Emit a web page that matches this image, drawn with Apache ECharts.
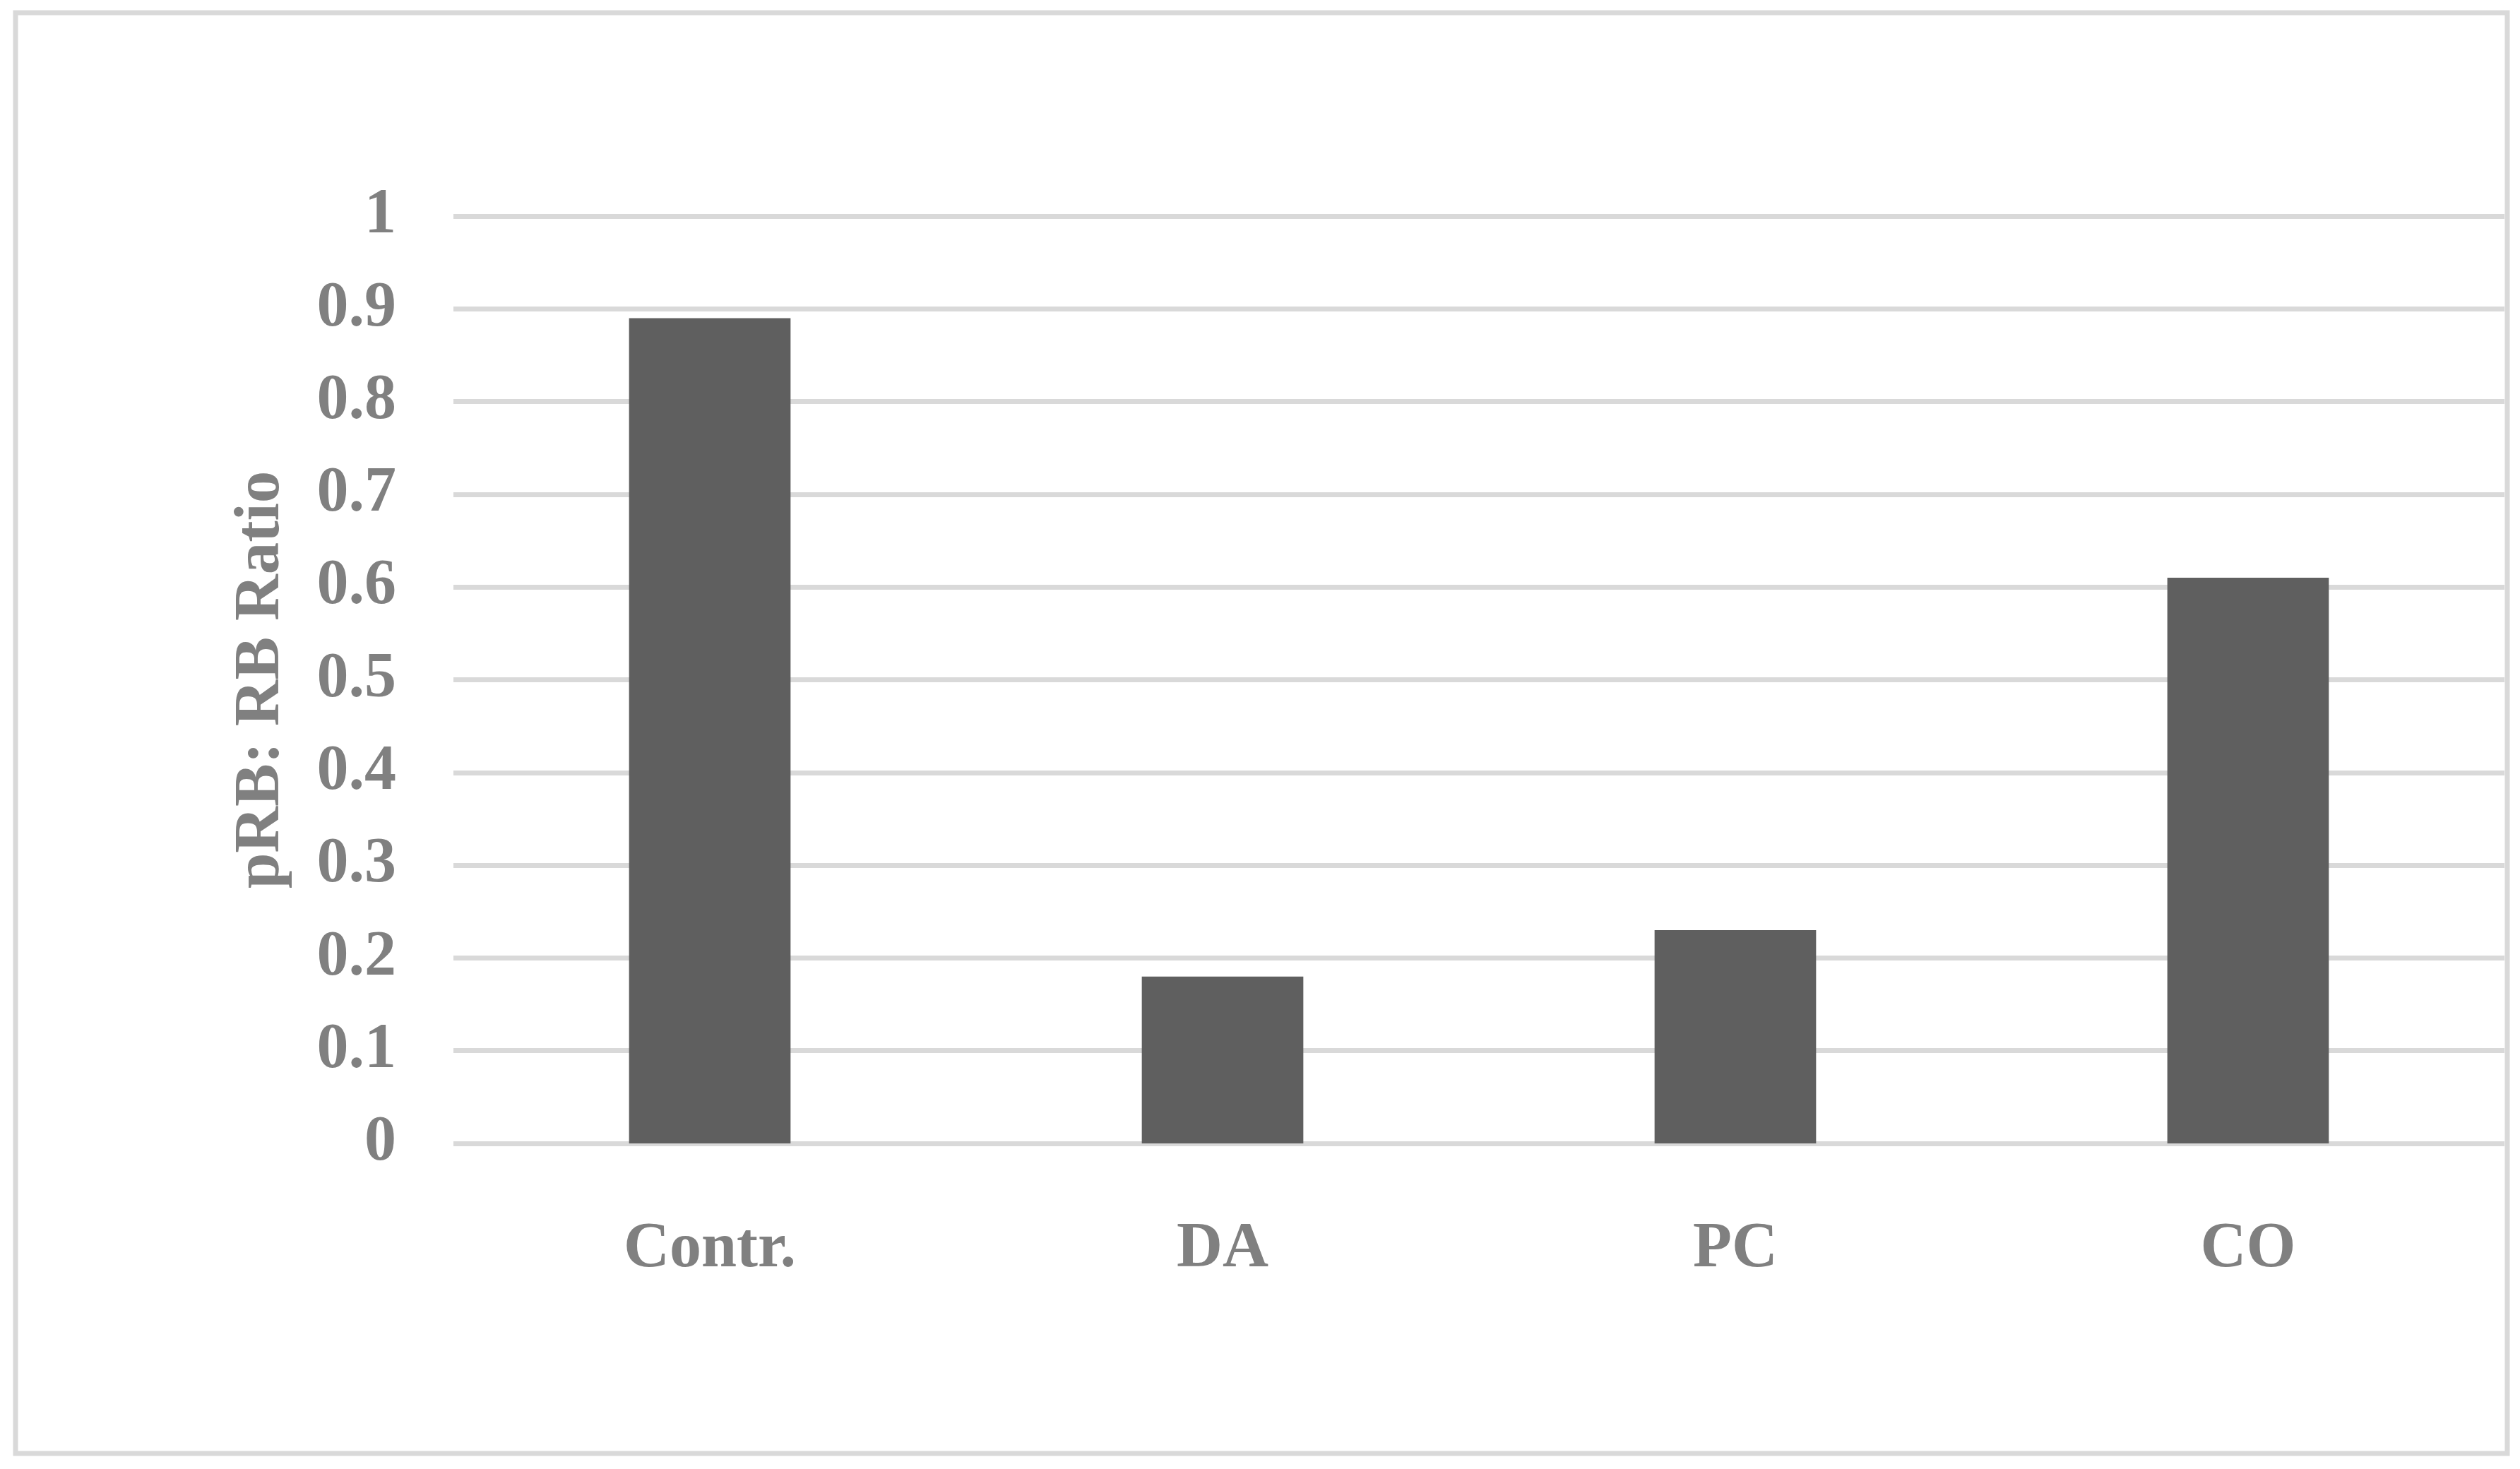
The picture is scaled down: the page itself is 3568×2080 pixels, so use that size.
<!DOCTYPE html>
<html>
<head>
<meta charset="utf-8">
<script src="https://cdn.jsdelivr.net/npm/echarts@6/dist/echarts.min.js"></script>
<style>
html,body{margin:0;padding:0;background:#fff;}
#chart{width:3568px;height:2080px;}
</style>
</head>
<body>
<div id="chart"></div>
<script>
const categories = ['Contr.', 'DA', 'PC', 'CO'];
const ratioValues = [0.89, 0.18, 0.23, 0.61];
const yAxisTitle = 'pRB: RB Ratio';

const chart = echarts.init(document.getElementById('chart'), null, {renderer: 'canvas'});
const font = '"Liberation Serif", "Times New Roman", serif';
const textColor = '#808080';

chart.setOption({
  backgroundColor: '#ffffff',
  animation: false,
  graphic: [{
    type: 'rect',
    shape: {x: 22, y: 18, width: 3528, height: 2040},
    style: {fill: 'none', stroke: '#d9d9d9', lineWidth: 7},
    silent: true
  }],
  grid: {left: 642, right: 22, top: 306, bottom: 461, containLabel: false},
  xAxis: {
    type: 'category',
    data: categories,
    axisLine: {show: false},
    axisTick: {show: false},
    axisLabel: {
      color: textColor, fontFamily: font, fontWeight: 'bold', fontSize: 90,
      margin: 106
    }
  },
  yAxis: {
    type: 'value',
    min: 0, max: 1, interval: 0.1,
    name: yAxisTitle,
    nameLocation: 'middle',
    nameRotate: 90,
    nameGap: 226,
    nameTextStyle: {color: textColor, fontFamily: font, fontWeight: 'bold', fontSize: 91},
    axisLine: {show: false},
    axisTick: {show: false},
    splitLine: {show: true, lineStyle: {color: '#d9d9d9', width: 7}},
    axisLabel: {
      color: textColor, fontFamily: font, fontWeight: 'bold', fontSize: 90,
      margin: 81,
      formatter: function (v) { return String(Math.round(v * 10) / 10); }
    }
  },
  series: [{
    type: 'bar',
    data: ratioValues,
    barWidth: '31.5%',
    itemStyle: {color: '#5f5f5f'}
  }]
});
</script>
</body>
</html>
